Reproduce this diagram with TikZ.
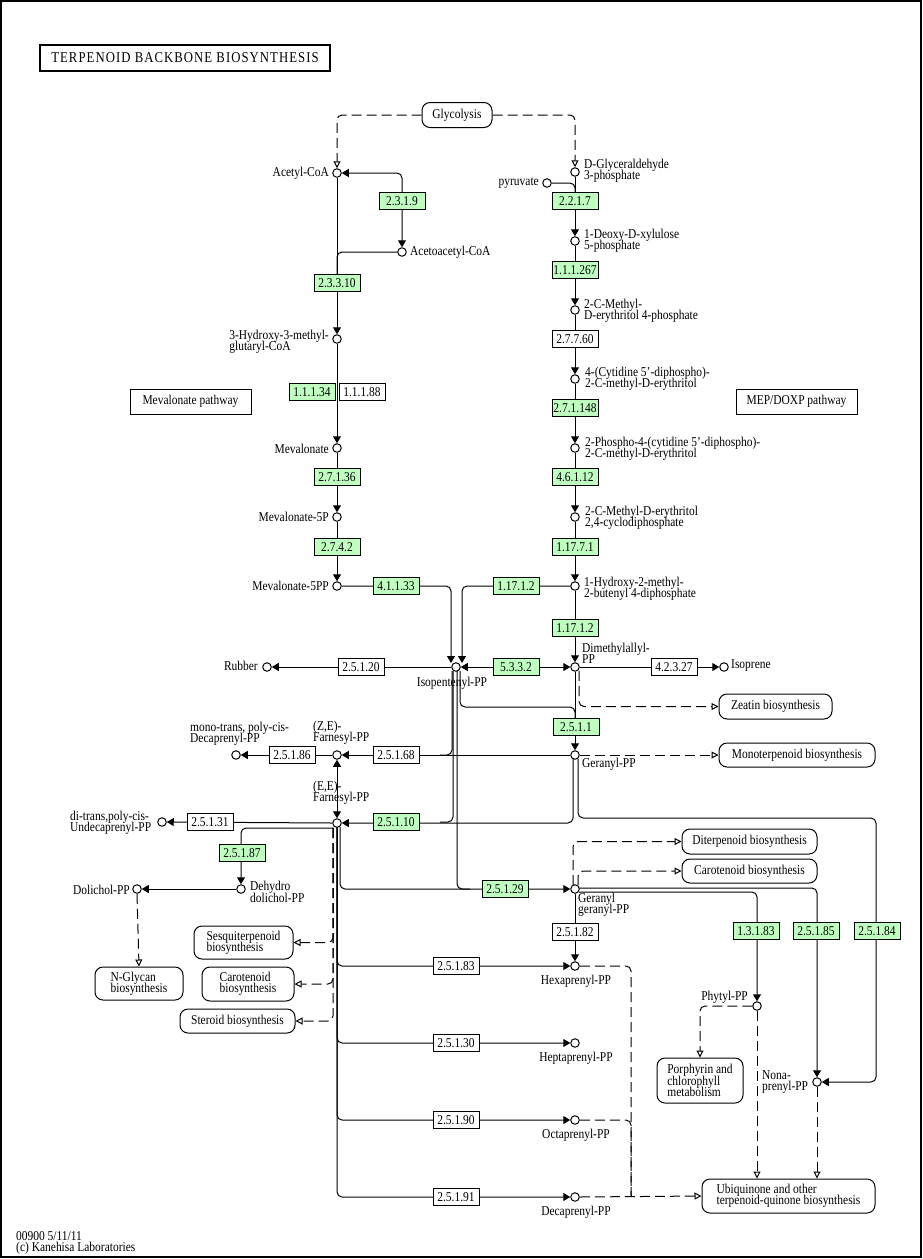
\documentclass[tikz,border=0pt]{standalone}
\usepackage{fontspec}
\setmainfont{Liberation Serif}[FakeStretch=0.85]
\usetikzlibrary{arrows.meta}
\lineskiplimit=-20pt
\lineskip=0pt
\definecolor{ecgreen}{RGB}{191,255,191}
\pgfdeclarelayer{bg}
\pgfsetlayers{bg,main}
\newcommand{\kf}{\fontsize{13.5}{11.3}\selectfont}
\tikzset{
  every node/.style={font=\kf},
  ec/.style={draw, fill=ecgreen, minimum width=46pt, minimum height=16.5pt, inner sep=0pt, line width=1pt},
  ecw/.style={ec, fill=white},
  cpd/.style={circle, draw, fill=white, minimum size=8.5pt, inner sep=0pt, line width=1pt},
  mapbox/.style={draw, fill=white, rounded corners=8pt, align=left, inner sep=0pt, line width=1pt},
  plainbox/.style={draw, fill=white, inner sep=0pt, line width=1pt, minimum width=121pt, minimum height=25pt},
  lbl/.style={inner sep=0pt, align=left},
  conn/.style={line width=1pt, rounded corners=5pt},
  dsh/.style={conn, dash pattern=on 10pt off 5pt},
  >={Triangle[length=7pt,width=8pt]},
  oa/.style={-{Triangle[open,length=7pt,width=7pt,fill=white]}}
}
\begin{document}
\begin{tikzpicture}[x=1pt,y=-1pt]
\path[use as bounding box] (0,0) rectangle (923,1259);
\draw[line width=1.5pt] (1,1) rectangle (921,1257);
\node[draw, line width=2pt, minimum width=290pt, minimum height=26pt, inner sep=0pt, font=\fontsize{15}{15}\selectfont] (title) at (185,58) {\addfontfeatures{LetterSpace=7}TERPENOID BACKBONE BIOSYNTHESIS};

% pathway maps
\node[mapbox, minimum width=70pt, minimum height=25pt] (gly) at (457,115) {Glycolysis};
\node[plainbox] (mevpath) at (190.5,401.5) {Mevalonate pathway};
\node[plainbox] (meppath) at (796.5,401.5) {MEP/DOXP pathway};
\node[mapbox, minimum width=113pt, minimum height=25pt] (zeatin) at (775.5,706.5) {Zeatin biosynthesis};
\node[mapbox, minimum width=156pt, minimum height=24pt] (mono) at (797,755) {Monoterpenoid biosynthesis};
\node[mapbox, minimum width=135pt, minimum height=25pt] (diterp) at (749.5,841.5) {Diterpenoid biosynthesis};
\node[mapbox, minimum width=135pt, minimum height=24pt] (carot2) at (749.5,871) {Carotenoid biosynthesis};
\node[mapbox, minimum width=99pt, minimum height=33pt] (sesq) at (243.5,942.5) {Sesquiterpenoid\\biosynthesis};
\node[mapbox, minimum width=92pt, minimum height=34pt] (carot1) at (248,984) {Carotenoid\\biosynthesis};
\node[mapbox, minimum width=115pt, minimum height=24pt] (steroid) at (237.5,1021) {Steroid biosynthesis};
\node[mapbox, minimum width=88pt, minimum height=33pt] (nglycan) at (139,983.5) {N-Glycan\\biosynthesis};
\node[mapbox, minimum width=86pt, minimum height=45pt] (porph) at (700,1080.5) {Porphyrin and\\chlorophyll\\metabolism};
\node[mapbox, minimum width=173pt, minimum height=34pt] (ubiq) at (788.5,1196) {Ubiquinone and other\\terpenoid-quinone biosynthesis};

% compounds
\node[cpd] (acoa) at (337,173) {};
\node[cpd] (aacoa) at (402,252) {};
\node[cpd] (hmg) at (337,339) {};
\node[cpd] (mva) at (337,448) {};
\node[cpd] (mva5p) at (337,517) {};
\node[cpd] (mva5pp) at (337,586) {};
\node[cpd] (ipp) at (456,667) {};
\node[cpd] (rubber) at (267,667) {};
\node[cpd] (gap) at (575,172) {};
\node[cpd] (pyr) at (547,183) {};
\node[cpd] (dxp) at (575,241) {};
\node[cpd] (mep) at (575,310) {};
\node[cpd] (cdpme) at (575,379) {};
\node[cpd] (cdpmep) at (575,448) {};
\node[cpd] (mecpp) at (575,517) {};
\node[cpd] (hmbpp) at (575,586) {};
\node[cpd] (dmapp) at (575,667) {};
\node[cpd] (isoprene) at (724,667) {};
\node[cpd] (gpp) at (575,755) {};
\node[cpd] (zfpp) at (337,755) {};
\node[cpd] (decpp1) at (236,755) {};
\node[cpd] (efpp) at (337,823) {};
\node[cpd] (undpp) at (162,822) {};
\node[cpd] (dhdpp) at (241,889) {};
\node[cpd] (dolpp) at (137,889) {};
\node[cpd] (ggpp) at (575,889) {};
\node[cpd] (hexpp) at (575,966) {};
\node[cpd] (heppp) at (575,1043) {};
\node[cpd] (octpp) at (575,1120) {};
\node[cpd] (decpp) at (575,1197) {};
\node[cpd] (phytpp) at (757,1006) {};
\node[cpd] (nonpp) at (817,1082) {};

% compound labels
\node[lbl, anchor=east] (l-acoa) at (329,173) {Acetyl-CoA};
\node[lbl, anchor=west] (l-aacoa) at (410,252) {Acetoacetyl-CoA};
\node[lbl, anchor=east] (l-hmg) at (329,342) {3-Hydroxy-3-methyl-\\glutaryl-CoA};
\node[lbl, anchor=east] (l-mva) at (329,449) {Mevalonate};
\node[lbl, anchor=east] (l-mva5p) at (329,517) {Mevalonate-5P};
\node[lbl, anchor=east] (l-mva5pp) at (329,586) {Mevalonate-5PP};
\node[lbl, anchor=west] (l-gap) at (584,171) {D-Glyceraldehyde\\3-phosphate};
\node[lbl, anchor=east] (l-pyr) at (539,183) {pyruvate};
\node[lbl, anchor=west] (l-dxp) at (584,241) {1-Deoxy-D-xylulose\\5-phosphate};
\node[lbl, anchor=west] (l-mep) at (584,311) {2-C-Methyl-\\D-erythritol 4-phosphate};
\node[lbl, anchor=west] (l-cdpme) at (585,379) {4-(Cytidine 5'-diphospho)-\\2-C-methyl-D-erythritol};
\node[lbl, anchor=west] (l-cdpmep) at (585,449) {2-Phospho-4-(cytidine 5'-diphospho)-\\2-C-methyl-D-erythritol};
\node[lbl, anchor=west] (l-mecpp) at (585,518) {2-C-Methyl-D-erythritol\\2,4-cyclodiphosphate};
\node[lbl, anchor=west] (l-hmbpp) at (584,589) {1-Hydroxy-2-methyl-\\2-butenyl 4-diphosphate};
\node[lbl, anchor=west] (l-dmapp) at (582,653) {Dimethylallyl-\\PP};
\node[lbl] (l-ipp) at (452,683) {Isopentenyl-PP};
\node[lbl, anchor=east] (l-rubber) at (258,666) {Rubber};
\node[lbl, anchor=west] (l-isoprene) at (731,666) {Isoprene};
\node[lbl, anchor=west] (l-gpp) at (582,764) {Geranyl-PP};
\node[lbl, anchor=west] (l-zfpp) at (313,733) {(Z,E)-\\Farnesyl-PP};
\node[lbl, anchor=west] (l-decpp1) at (190,734) {mono-trans, poly-cis-\\Decaprenyl-PP};
\node[lbl, anchor=west] (l-efpp) at (313,793) {(E,E)-\\Farnesyl-PP};
\node[lbl, anchor=west] (l-undpp) at (70,823) {di-trans,poly-cis-\\Undecaprenyl-PP};
\node[lbl, anchor=west] (l-dhdpp) at (250,892) {Dehydro\\dolichol-PP};
\node[lbl, anchor=east] (l-dolpp) at (130,890) {Dolichol-PP};
\node[lbl, anchor=west] (l-ggpp) at (578,905) {Geranyl\\geranyl-PP};
\node[lbl] (l-hexpp) at (576,981) {Hexaprenyl-PP};
\node[lbl] (l-heppp) at (576,1058) {Heptaprenyl-PP};
\node[lbl] (l-octpp) at (576,1135) {Octaprenyl-PP};
\node[lbl] (l-decpp) at (576,1212) {Decaprenyl-PP};
\node[lbl, anchor=east] (l-phytpp) at (748,997) {Phytyl-PP};
\node[lbl, anchor=west] (l-nonpp) at (762,1082) {Nona-\\prenyl-PP};

% enzymes
\node[ec] (e2319) at (402,201) {2.3.1.9};
\node[ec] (e23310) at (337,283) {2.3.3.10};
\node[ec] (e11134) at (312,392) {1.1.1.34};
\node[ecw] (e11188) at (362,392) {1.1.1.88};
\node[ec] (e27136) at (337,477) {2.7.1.36};
\node[ec] (e2742) at (337,547) {2.7.4.2};
\node[ec] (e41133) at (396,586) {4.1.1.33};
\node[ec] (e11712a) at (516,586) {1.17.1.2};
\node[ec] (e2217) at (575,201) {2.2.1.7};
\node[ec] (e111267) at (575,270) {1.1.1.267};
\node[ecw] (e27760) at (575,339) {2.7.7.60};
\node[ec] (e271148) at (575,408) {2.7.1.148};
\node[ec] (e46112) at (575,477) {4.6.1.12};
\node[ec] (e11771) at (575,547) {1.17.7.1};
\node[ec] (e11712b) at (575,628) {1.17.1.2};
\node[ec] (e5332) at (516,667) {5.3.3.2};
\node[ecw] (e25120) at (361,667) {2.5.1.20};
\node[ecw] (e42327) at (674,667) {4.2.3.27};
\node[ec] (e2511) at (576,727) {2.5.1.1};
\node[ecw] (e25168) at (396,755) {2.5.1.68};
\node[ecw] (e25186) at (292,755) {2.5.1.86};
\node[ec] (e25110) at (396,822) {2.5.1.10};
\node[ecw] (e25131) at (210,822) {2.5.1.31};
\node[ec] (e25187) at (242,853) {2.5.1.87};
\node[ec] (e25129) at (505,889) {2.5.1.29};
\node[ecw] (e25182) at (575,932) {2.5.1.82};
\node[ecw] (e25183) at (456,966) {2.5.1.83};
\node[ecw] (e25130) at (456,1043) {2.5.1.30};
\node[ecw] (e25190) at (456,1120) {2.5.1.90};
\node[ecw] (e25191) at (456,1197) {2.5.1.91};
\node[ec] (e13183) at (756,931) {1.3.1.83};
\node[ec] (e25185) at (816,931) {2.5.1.85};
\node[ec] (e25184) at (877,931) {2.5.1.84};

\node[lbl, anchor=west] (footer) at (16,1243) {00900 5/11/11\\(c) Kanehisa Laboratories};

\begin{pgfonlayer}{bg}
\draw[dsh,oa] (gly.west) -| (acoa.north);
\draw[dsh,oa] (gly.east) -| (gap.north);
\draw[conn,<->] (acoa.east) -| (aacoa.north);
\draw[conn] (aacoa.west) -| (337,275);
\draw[conn,->] (acoa.south) -- (hmg.north);
\draw[conn,->] (hmg.south) -- (mva.north);
\draw[conn,->] (mva.south) -- (mva5p.north);
\draw[conn,->] (mva5p.south) -- (mva5pp.north);
\draw[conn,->] (mva5pp.east) -| (451,663);
\draw[conn,->] (hmbpp.west) -| (462,663);
\draw[conn] (pyr.east) -| (575,195);
\draw[conn,->] (gap.south) -- (dxp.north);
\draw[conn,->] (dxp.south) -- (mep.north);
\draw[conn,->] (mep.south) -- (cdpme.north);
\draw[conn,->] (cdpme.south) -- (cdpmep.north);
\draw[conn,->] (cdpmep.south) -- (mecpp.north);
\draw[conn,->] (mecpp.south) -- (hmbpp.north);
\draw[conn,->] (hmbpp.south) -- (dmapp.north);
\draw[conn,<->] (ipp.east) -- (dmapp.west);
\draw[conn,->] (ipp.west) -- (rubber.east);
\draw[conn,->] (dmapp.east) -- (isoprene.west);
\draw[dsh,oa] (579,671) |- (zeatin.west);
\draw[conn] (460,671) |- (575,707) -- (575,722);
\draw[conn,->] (dmapp.south) -- (gpp.north);
\draw[dsh,oa] (gpp.east) -- (mono.west);
\draw[conn,->] (gpp.west) -- (zfpp.east);
\draw[conn] (452,671) |- (440,755);
\draw[conn,->] (zfpp.west) -- (decpp1.east);
\draw[conn,<->] (efpp.north) -- (zfpp.south);
\draw[conn,->] (573,759) |- (efpp.east);
\draw[conn] (453,671) |- (440,822);
\draw[conn,->] (efpp.west) -- (undpp.east);
\draw[conn,->] (334,828) -| (dhdpp.north);
\draw[conn,->] (dhdpp.west) -- (dolpp.east);
\draw[dsh,oa] (dolpp.south) -- (nglycan.north);
\draw[dsh,oa] (333,828) |- (sesq.east);
\draw[dsh,oa] (333,828) |- (carot1.east);
\draw[dsh,oa] (333,828) |- (steroid.east);
\draw[conn,->] (578,759) |- (876,818) |- (nonpp.east);
\draw[conn,->] (340,827) |- (ggpp.west);
\draw[conn] (457,671) |- (470,889);
\draw[conn,->] (ggpp.south) -- (hexpp.north);
\draw[conn,->] (337,827) |- (hexpp.west);
\draw[conn,->] (337,827) |- (heppp.west);
\draw[conn,->] (337,827) |- (octpp.west);
\draw[conn,->] (337,827) |- (decpp.west);
\draw[dsh,oa] (573,885) |- (diterp.west);
\draw[dsh,oa] (578,885) |- (carot2.west);
\draw[conn,->] (579,888) -| (nonpp.north);
\draw[conn,->] (579,892) -| (phytpp.north);
\draw[dsh,oa] (phytpp.west) -| (porph.north);
\draw[dsh,oa] (phytpp.south) -- (phytpp.south |- ubiq.north);
\draw[dsh,oa] (nonpp.south) -- (nonpp.south |- ubiq.north);
\draw[dsh] (hexpp.east) -| (631,1196);
\draw[dsh] (octpp.east) -| (631,1196);
\draw[dsh,oa] (decpp.east) -- (ubiq.west);
\end{pgfonlayer}
\end{tikzpicture}
\end{document}
